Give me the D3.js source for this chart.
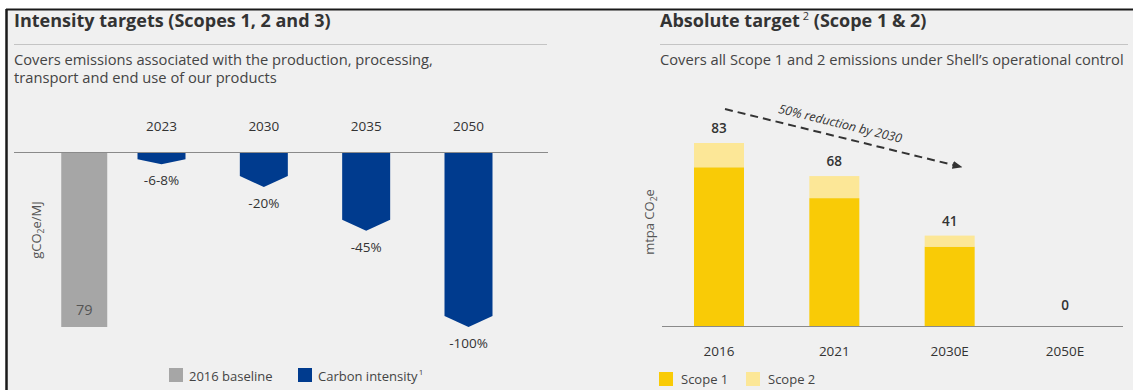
<!DOCTYPE html>
<html>
<head>
<meta charset="utf-8">
<script src="https://cdn.jsdelivr.net/npm/d3@7"></script>
<style>
  body { margin: 0; background: #fff; }
  svg { display: block; font-family: "Open Sans", Lato, sans-serif; }
</style>
</head>
<body>
<svg id="chart" width="1133" height="390"></svg>
<script>
// left panel: carbon intensity reductions vs 2016 baseline
const intensityYears = ['2023', '2030', '2035', '2050'];
const intensityCuts = [7, 20, 45, 100]; // % below 2016 (2023 is a 6-8% range)
const intensityLabels = ['-6-8%', '-20%', '-45%', '-100%'];
const baselineValue = 79; // gCO2e/MJ in 2016

// right panel: absolute scope 1 & 2 emissions, mtpa CO2e
const absYears = ['2016', '2021', '2030E', '2050E'];
const scope1 = [72, 58, 36, 0];
const scope2 = [11, 10, 5, 0];
const absTotals = [83, 68, 41, 0];

const svg = d3.select('#chart');

const BLUE = '#003b8e';
const GREY = '#a6a6a6';
const YELLOW = '#f9cb06';
const LIGHT_YELLOW = '#fce797';
const TEXT = '#333';

// frame
svg.append('rect').attr('x', 7).attr('y', 10).attr('width', 1126).attr('height', 380).attr('fill', '#f0f0f0');
svg.append('line').attr('x1', 6).attr('x2', 1133).attr('y1', 9.5).attr('y2', 9.5).attr('stroke', '#1a1a1a').attr('stroke-width', 2);
svg.append('line').attr('x1', 6.5).attr('x2', 6.5).attr('y1', 9).attr('y2', 390).attr('stroke', '#1a1a1a').attr('stroke-width', 2.5);

// headers
function header(x0, x1, title, subtitleLines) {
  const t = svg.append('text')
    .attr('x', x0).attr('y', 27)
    .attr('font-size', 18).attr('font-weight', 700).attr('fill', TEXT);
  title(t);
  svg.append('line').attr('x1', x0).attr('x2', x1).attr('y1', 44.5).attr('y2', 44.5)
    .attr('stroke', '#c4c4c4').attr('stroke-width', 1);
  subtitleLines.forEach((s, i) => {
    svg.append('text').attr('x', x0).attr('y', 65 + i * 18)
      .attr('font-size', 14.7).attr('fill', '#444').text(s);
  });
}

header(14, 547, t => t.text('Intensity targets (Scopes 1, 2 and 3)'),
  ['Covers emissions associated with the production, processing,',
   'transport and end use of our products']);

header(660, 1128, t => {
  t.append('tspan').text('Absolute target');
  t.append('tspan').attr('font-size', 11).attr('font-weight', 400).attr('dx', 3).attr('dy', -7).text('2');
  t.append('tspan').attr('dy', 7).text(' (Scope 1 & 2)');
}, ['Covers all Scope 1 and 2 emissions under Shell\u2019s operational control']);

// ---------- left chart ----------
const axisYL = 152;
const xL = d3.scalePoint().domain(intensityYears).range([161.5, 468.5]);
const yL = d3.scaleLinear().domain([0, 100]).range([axisYL, 327]);
const barWL = 48;

const gL = svg.append('g');

// 2016 baseline bar sits just left of the first target year
const baseX = xL(intensityYears[0]) - xL.step() * 0.755;
gL.append('rect')
  .attr('x', baseX - 23).attr('y', axisYL)
  .attr('width', 46).attr('height', yL(100) - axisYL)
  .attr('fill', GREY);
gL.append('text')
  .attr('x', baseX).attr('y', yL(100) - 12)
  .attr('text-anchor', 'middle').attr('font-size', 14.5).attr('fill', '#555')
  .text(baselineValue);

// chevron bars pointing down
const chevron = d => {
  const cx = xL(d.year);
  const x0 = cx - barWL / 2, x1 = cx + barWL / 2;
  const tip = yL(d.cut);
  const depth = Math.min(11, (tip - axisYL) * 0.4);
  return `M${x0},${axisYL}L${x1},${axisYL}L${x1},${tip - depth}L${cx},${tip}L${x0},${tip - depth}Z`;
};
const intensityData = intensityYears.map((year, i) => ({ year, cut: intensityCuts[i], label: intensityLabels[i] }));

gL.selectAll('.chev')
  .data(intensityData)
  .enter()
  .append('path')
  .attr('class', 'chev')
  .attr('d', chevron)
  .attr('fill', BLUE);

gL.selectAll('.cut-label')
  .data(intensityData)
  .enter()
  .append('text')
  .attr('class', 'cut-label')
  .attr('x', d => xL(d.year))
  .attr('y', d => yL(d.cut) + 21)
  .attr('text-anchor', 'middle').attr('font-size', 13.5).attr('fill', TEXT)
  .text(d => d.label);

gL.selectAll('.year')
  .data(intensityYears)
  .enter()
  .append('text')
  .attr('class', 'year')
  .attr('x', d => xL(d)).attr('y', 131)
  .attr('text-anchor', 'middle').attr('font-size', 13.5).attr('fill', TEXT)
  .text(d => d);

gL.append('line').attr('x1', 14).attr('x2', 548).attr('y1', axisYL + 0.5).attr('y2', axisYL + 0.5)
  .attr('stroke', '#8a8a8a').attr('stroke-width', 1.2);

const yLabL = gL.append('text')
  .attr('transform', 'translate(41,230) rotate(-90)')
  .attr('text-anchor', 'middle').attr('font-size', 13).attr('fill', '#555');
yLabL.append('tspan').text('gCO');
yLabL.append('tspan').attr('font-size', 8.5).attr('dy', 3).text('2');
yLabL.append('tspan').attr('dy', -3).text('e/MJ');

// left legend
const legL = [
  { label: '2016 baseline', color: GREY, x: 169 },
  { label: 'Carbon intensity', sup: '1', color: BLUE, x: 298 }
];
legL.forEach(d => {
  gL.append('rect').attr('x', d.x).attr('y', 368).attr('width', 14).attr('height', 14).attr('fill', d.color);
  const t = gL.append('text').attr('x', d.x + 20).attr('y', 381).attr('font-size', 13).attr('fill', '#444');
  t.append('tspan').text(d.label);
  if (d.sup) t.append('tspan').attr('font-size', 8).attr('dy', -6).attr('dx', 1).text(d.sup);
});

// ---------- right chart ----------
const axisYR = 326;
const xR = d3.scalePoint().domain(absYears).range([719, 1065]);
const yR = d3.scaleLinear().domain([0, 83]).range([axisYR, 143]);
const barWR = 50;

const gR = svg.append('g');
const absData = absYears.map((year, i) => ({ year, scope1: scope1[i], scope2: scope2[i], total: absTotals[i] }));
const stack = d3.stack().keys(['scope1', 'scope2'])(absData);
const stackColor = { scope1: YELLOW, scope2: LIGHT_YELLOW };

gR.selectAll('.layer')
  .data(stack)
  .enter()
  .append('g')
  .attr('class', 'layer')
  .attr('fill', d => stackColor[d.key])
  .selectAll('rect')
  .data(d => d)
  .enter()
  .append('rect')
  .attr('x', d => xR(d.data.year) - barWR / 2)
  .attr('y', d => yR(d[1]))
  .attr('width', barWR)
  .attr('height', d => yR(d[0]) - yR(d[1]));

gR.selectAll('.total')
  .data(absData)
  .enter()
  .append('text')
  .attr('class', 'total')
  .attr('x', d => xR(d.year))
  .attr('y', d => Math.min(yR(d.total) - 10, axisYR - 16))
  .attr('text-anchor', 'middle').attr('font-size', 13.5).attr('font-weight', 600).attr('fill', TEXT)
  .text(d => d.total);

gR.append('line').attr('x1', 662).attr('x2', 1123).attr('y1', axisYR + 0.5).attr('y2', axisYR + 0.5)
  .attr('stroke', '#8a8a8a').attr('stroke-width', 1.2);

gR.selectAll('.year')
  .data(absYears)
  .enter()
  .append('text')
  .attr('class', 'year')
  .attr('x', d => xR(d)).attr('y', 356)
  .attr('text-anchor', 'middle').attr('font-size', 13.5).attr('fill', TEXT)
  .text(d => d);

const yLabR = gR.append('text')
  .attr('transform', 'translate(654,222) rotate(-90)')
  .attr('text-anchor', 'middle').attr('font-size', 13).attr('fill', '#555');
yLabR.append('tspan').text('mtpa CO');
yLabR.append('tspan').attr('font-size', 8.5).attr('dy', 3).text('2');
yLabR.append('tspan').attr('dy', -3).text('e');

// reduction arrow from 2016 towards 2030E
svg.append('defs').append('marker')
  .attr('id', 'arrow')
  .attr('viewBox', '0 0 10 10')
  .attr('refX', 5).attr('refY', 5)
  .attr('markerWidth', 5).attr('markerHeight', 5)
  .attr('orient', 'auto')
  .append('path').attr('d', 'M0,1L10,5L0,9Z').attr('fill', '#333');

const a0 = [xR('2016') + 6, yR(83) - 34];
const a1 = [xR('2030E') + 8, yR(68) - 10];
gR.append('line')
  .attr('x1', a0[0]).attr('y1', a0[1]).attr('x2', a1[0]).attr('y2', a1[1])
  .attr('stroke', '#333').attr('stroke-width', 2)
  .attr('stroke-dasharray', '8,5')
  .attr('marker-end', 'url(#arrow)');

const ang = Math.atan2(a1[1] - a0[1], a1[0] - a0[0]) * 180 / Math.PI;
gR.append('text')
  .attr('transform', `translate(${a0[0]},${a0[1]}) rotate(${ang})`)
  .attr('x', 52).attr('y', -9)
  .attr('font-size', 12.5).attr('font-style', 'italic').attr('fill', TEXT)
  .text('50% reduction by 2030');

// right legend
const legR = [
  { label: 'Scope 1', color: YELLOW, x: 659 },
  { label: 'Scope 2', color: LIGHT_YELLOW, x: 746 }
];
legR.forEach(d => {
  gR.append('rect').attr('x', d.x).attr('y', 372).attr('width', 14).attr('height', 14).attr('fill', d.color);
  gR.append('text').attr('x', d.x + 22).attr('y', 384).attr('font-size', 13).attr('fill', '#444').text(d.label);
});
</script>
</body>
</html>
